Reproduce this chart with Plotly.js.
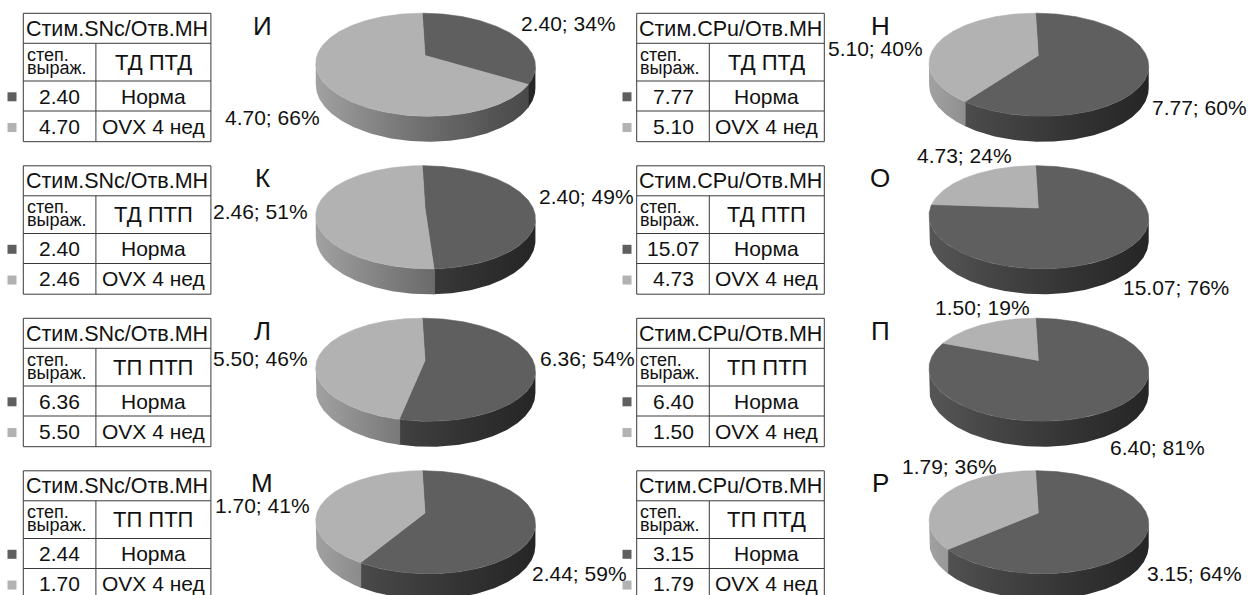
<!DOCTYPE html>
<html>
<head>
<meta charset="utf-8">
<script src="https://cdn.plot.ly/plotly-3.0.1.min.js"></script>
<style>
  html, body { margin: 0; padding: 0; background: #ffffff; }
  #chart { width: 1251px; height: 595px; }
</style>
</head>
<body>
<div id="chart"></div>
<script>
// ---- data -------------------------------------------------------------
const panelLetters = ['И', 'К', 'Л', 'М', 'Н', 'О', 'П', 'Р'];
const tableTitles = [
  'Стим.SNc/Отв.МН', 'Стим.SNc/Отв.МН', 'Стим.SNc/Отв.МН', 'Стим.SNc/Отв.МН',
  'Стим.CPu/Отв.МН', 'Стим.CPu/Отв.МН', 'Стим.CPu/Отв.МН', 'Стим.CPu/Отв.МН'
];
const expressionTypes = ['ТД ПТД', 'ТД ПТП', 'ТП ПТП', 'ТП ПТП', 'ТД ПТД', 'ТД ПТП', 'ТП ПТП', 'ТП ПТД'];
const groupNames = ['Норма', 'OVX 4 нед'];
const headerLines = ['степ.', 'выраж.'];
const normaValues = [2.40, 2.40, 6.36, 2.44, 7.77, 15.07, 6.40, 3.15];
const ovxValues   = [4.70, 2.46, 5.50, 1.70, 5.10, 4.73, 1.50, 1.79];

// ---- styling / layout constants ---------------------------------------
const W = 1251, H = 595;
const sliceColors = ['#5f5f5f', '#b2b2b2'];
const FONT = 'Liberation Sans, Arial, sans-serif';
const TEXT_COLOR = '#111111';
const ROW_STEP = 152.5;
const PX = 108;                 // pixels per unit pie radius
const PERSP = 0.179;            // perspective strength (far edge smaller)
const RY = 0.462;               // vertical squash of the pie top
const THICK = 0.194;            // pie height (units)
const SHEAR = 0.03;             // slight horizontal lean of the depth axis
const PIE_CX = [425, 1038.3];
const PIE_VY0 = 55.5;
const TABLE_LEFT = [23.3, 636.7];
const TABLE_TOP0 = 13.3;
const COL_W = [72.6, 115];
const ROW_H = [30, 37.7, 30, 30.7];
const MARKER_X = [12, 627];
const LETTER_X = [262, 880];
const LETTER_Y0 = 25.5;

// label offsets from the pie centre in pixels: [dx, dy, xanchor] (Норма, OVX)
const labelSpots = [
  [[94, -32.5, 'left'],  [-103, 61.5, 'right']],
  [[112, -11, 'left'],   [-115, 3.5, 'right']],
  [[113, -2.5, 'left'],  [-115, -2.5, 'right']],
  [[105, 60, 'left'],    [-113, -7.5, 'right']],
  [[112, 52, 'left'],    [-113, -7, 'right']],
  [[83, 79.5, 'left'],   [-123, -52.5, 'left']],
  [[70, 87, 'left'],     [-105, -53, 'left']],
  [[107, 60, 'left'],    [-138, -47, 'left']]
];

// ---- helpers ----------------------------------------------------------
// project an angle (clockwise from 12 o'clock) onto the tilted pie top
function project(phi) {
  const u = Math.sin(phi), v = Math.cos(phi);
  const s = 1 / (1 + PERSP * v);
  return { x: s * (u - SHEAR * v), y: s * v * RY, s: s };
}
function shade(hex, f) {
  const n = parseInt(hex.slice(1), 16);
  const c = [(n >> 16) & 255, (n >> 8) & 255, n & 255].map(function (v) {
    return Math.max(0, Math.min(255, Math.round(v * f)));
  });
  return 'rgb(' + c.join(',') + ')';
}
// side wall lighting: bright on the left, dark on the right
function sideFactor(x) { return 0.62 - 0.25 * x + 0.03 * x * x; }
function sideScale(hex) {
  const stops = [];
  for (let i = 0; i <= 10; i++) {
    const x = -1.05 + 2.1 * i / 10;
    stops.push([i / 10, shade(hex, sideFactor(x))]);
  }
  return stops;
}

// visible arc of the side wall: between the right and left silhouette points
let phiRight = 0, phiLeft = 0, maxX = -9, minX = 9;
for (let i = 0; i <= 1440; i++) {
  const phi = i / 1440 * 2 * Math.PI;
  const p = project(phi);
  if (p.x > maxX) { maxX = p.x; phiRight = phi; }
  if (p.x < minX) { minX = p.x; phiLeft = phi; }
}

const traces = [];
const layout = {
  width: W, height: H,
  margin: { l: 0, r: 0, t: 0, b: 0 },
  paper_bgcolor: '#ffffff',
  plot_bgcolor: 'rgba(0,0,0,0)',
  showlegend: false,
  annotations: [],
  shapes: []
};

function axisName(i, kind) { return i === 0 ? kind : kind + (i + 1); }

for (let i = 0; i < 8; i++) {
  const col = i < 4 ? 0 : 1;
  const row = i % 4;
  const cx = PIE_CX[col];
  const vy = PIE_VY0 + row * ROW_STEP;
  const xa = axisName(i, 'x'), ya = axisName(i, 'y');

  // axes for this pie, one unit = PX pixels in both directions
  const half = 140;
  const yTop = Math.max(0, vy - 55);
  const yBot = Math.min(H, vy + 95);
  layout[axisName(i, 'xaxis')] = {
    domain: [(cx - half) / W, (cx + half) / W],
    range: [-half / PX, half / PX],
    visible: false, fixedrange: true, anchor: ya
  };
  layout[axisName(i, 'yaxis')] = {
    domain: [(H - yBot) / H, (H - yTop) / H],
    range: [-(yBot - vy) / PX, (vy - yTop) / PX],
    visible: false, fixedrange: true, anchor: xa
  };

  const values = [normaValues[i], ovxValues[i]];
  const total = values[0] + values[1];
  const bounds = [0, values[0] / total * 2 * Math.PI, 2 * Math.PI];
  const eps = 0.4 * Math.PI / 180;

  // side walls with a horizontal light gradient
  for (let k = 0; k < 2; k++) {
    const a = Math.max(bounds[k] - eps, phiRight);
    const b = Math.min(bounds[k + 1] + eps, phiLeft);
    if (b <= a) continue;
    const n = Math.max(4, Math.ceil((b - a) / (Math.PI / 180)));
    const xs = [], ys = [];
    for (let t = 0; t <= n; t++) {
      const p = project(a + (b - a) * t / n);
      xs.push(p.x); ys.push(p.y);
    }
    for (let t = n; t >= 0; t--) {
      const p = project(a + (b - a) * t / n);
      xs.push(p.x); ys.push(p.y - THICK * p.s);
    }
    traces.push({
      type: 'scatter', mode: 'lines', x: xs, y: ys, xaxis: xa, yaxis: ya,
      fill: 'toself',
      fillgradient: { type: 'horizontal', colorscale: sideScale(sliceColors[k]), start: -1.05, stop: 1.05 },
      line: { width: 0 }, hoverinfo: 'skip'
    });
  }

  // top faces of the slices
  for (let k = 0; k < 2; k++) {
    const xs = [0], ys = [0];
    const n = Math.max(8, Math.ceil((bounds[k + 1] - bounds[k]) / (Math.PI / 180)));
    for (let t = 0; t <= n; t++) {
      const p = project(bounds[k] + (bounds[k + 1] - bounds[k]) * t / n);
      xs.push(p.x); ys.push(p.y);
    }
    xs.push(0); ys.push(0);
    traces.push({
      type: 'scatter', mode: 'lines', x: xs, y: ys, xaxis: xa, yaxis: ya,
      fill: 'toself', fillcolor: sliceColors[k],
      line: { color: sliceColors[k], width: 0.6 }, hoverinfo: 'skip'
    });
  }

  // value labels: "value; percent"
  for (let k = 0; k < 2; k++) {
    const spot = labelSpots[i][k];
    const pct = Math.round(values[k] / total * 100);
    layout.annotations.push({
      xref: xa, yref: ya, x: spot[0] / PX, y: -spot[1] / PX,
      xanchor: spot[2], yanchor: 'middle', showarrow: false,
      text: values[k].toFixed(2) + '; ' + pct + '%',
      font: { family: FONT, size: 21, color: TEXT_COLOR }
    });
  }
}

// ---- tables, legend markers and panel letters (pixel-unit overlay axes) ----
layout.xaxis9 = { domain: [0, 1], range: [0, W], visible: false, fixedrange: true, anchor: 'y9' };
layout.yaxis9 = { domain: [0, 1], range: [H, 0], visible: false, fixedrange: true, anchor: 'x9' };

for (let i = 0; i < 8; i++) {
  const col = i < 4 ? 0 : 1;
  const row = i % 4;
  const left = TABLE_LEFT[col];
  const top = TABLE_TOP0 + row * ROW_STEP;
  const right = left + COL_W[0] + COL_W[1];
  const divX = left + COL_W[0];
  const rowY = [top];
  ROW_H.forEach(function (h) { rowY.push(rowY[rowY.length - 1] + h); });
  const lineStyle = { color: '#3a3a3a', width: 1 };

  rowY.forEach(function (y) {
    layout.shapes.push({ type: 'line', xref: 'x9', yref: 'y9', x0: left, x1: right, y0: y, y1: y, line: lineStyle });
  });
  layout.shapes.push({ type: 'line', xref: 'x9', yref: 'y9', x0: left, x1: left, y0: rowY[0], y1: rowY[4], line: lineStyle });
  layout.shapes.push({ type: 'line', xref: 'x9', yref: 'y9', x0: right, x1: right, y0: rowY[0], y1: rowY[4], line: lineStyle });
  layout.shapes.push({ type: 'line', xref: 'x9', yref: 'y9', x0: divX, x1: divX, y0: rowY[1], y1: rowY[4], line: lineStyle });

  const mid = function (r) { return (rowY[r] + rowY[r + 1]) / 2; };
  const txt = function (x, y, text, size, anchor) {
    layout.annotations.push({
      xref: 'x9', yref: 'y9', x: x, y: y, text: text, showarrow: false,
      xanchor: anchor || 'center', yanchor: 'middle',
      font: { family: FONT, size: size, color: TEXT_COLOR }
    });
  };

  txt((left + right) / 2, mid(0) + 0.5, tableTitles[i], 21.5);
  txt(left + 1.5, rowY[1] + 11.5, headerLines[0], 18, 'left');
  txt(left + 1.5, rowY[1] + 24.5, headerLines[1], 18, 'left');
  txt((divX + right) / 2, mid(1), expressionTypes[i], 22);
  const vals = [normaValues[i], ovxValues[i]];
  for (let k = 0; k < 2; k++) {
    txt((left + divX) / 2, mid(2 + k), vals[k].toFixed(2), 21);
    txt((divX + right) / 2, mid(2 + k), groupNames[k], 21);
  }

  // legend squares
  traces.push({
    type: 'scatter', mode: 'markers', xaxis: 'x9', yaxis: 'y9',
    x: [MARKER_X[col], MARKER_X[col]], y: [mid(2) + 0.8, mid(3) + 1.2],
    marker: { symbol: 'square', size: 9, color: sliceColors, line: { width: 0 } },
    hoverinfo: 'skip'
  });

  // panel letter
  txt(LETTER_X[col], LETTER_Y0 + row * ROW_STEP, panelLetters[i], 26);
}

Plotly.newPlot('chart', traces, layout, { staticPlot: true, displayModeBar: false });
</script>
</body>
</html>
